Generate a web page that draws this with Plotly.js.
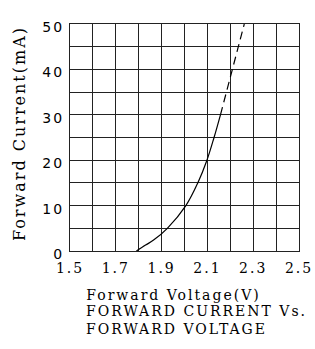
<!DOCTYPE html>
<html><head><meta charset="utf-8">
<script src="https://cdn.plot.ly/plotly-3.0.1.min.js"></script>
<style>
html,body{margin:0;padding:0;background:#fff;}
#chart{width:315px;height:349px;}
#chart .xtick text, #chart .ytick text, #chart .xtitle, #chart .ytitle, #chart .gtitle {letter-spacing:2px;}
#chart .g-xtitle {transform: translate(-11px, 0px);}
#chart .g-ytitle {transform: translate(0px, -4px);}
</style></head><body><div id="chart"></div>
<script>
const voltageSolid = [1.79, 1.83, 1.865, 1.925, 2.006, 2.058, 2.098, 2.129, 2.157];
const currentSolid = [0, 1.3, 2.4, 5, 10, 15, 20, 25, 30];
const voltageDashed = [2.157, 2.184, 2.209, 2.235, 2.261];
const currentDashed = [30, 35, 40, 45, 50];
const xTickVals = [1.5, 1.7, 1.9, 2.1, 2.3, 2.5];
const xTickText = ['1.5', '1.7', '1.9', '2.1', '2.3', '2.5'];
const yTickVals = [0, 10, 20, 30, 40, 50];
const yTickText = ['0', '10', '20', '30', '40', '50'];
const xTitle = 'Forward Voltage(V)';
const yTitle = 'Forward Current(mA)';
const chartTitle = 'FORWARD CURRENT Vs.<br>FORWARD VOLTAGE';

const gridColor = '#222';
const serif = 'DejaVu Serif';

const traces = [
  {x: voltageSolid, y: currentSolid, mode: 'lines', type: 'scatter',
   line: {color: '#000', width: 1.2, shape: 'spline', smoothing: 1}, hoverinfo: 'skip'},
  {x: voltageDashed, y: currentDashed, mode: 'lines', type: 'scatter',
   line: {color: '#000', width: 1.2, dash: '8px,5px'}, hoverinfo: 'skip'}
];

const layout = {
  width: 315, height: 349,
  margin: {l: 70, r: 16, t: 24, b: 98, pad: 0},
  paper_bgcolor: '#fff', plot_bgcolor: '#fff',
  showlegend: false,
  title: {text: chartTitle, font: {family: serif, size: 14, color: '#000'},
          x: 86/315, xanchor: 'left', xref: 'container',
          y: 1 - 316/349, yanchor: 'top', yref: 'container'},
  xaxis: {range: [1.5, 2.5], tickmode: 'array', tickvals: xTickVals, ticktext: xTickText,
          showgrid: true, gridcolor: gridColor, gridwidth: 1, zeroline: false,
          showline: true, mirror: true, linecolor: gridColor, linewidth: 1,
          ticks: '', ticklabelstandoff: 4,
          tickfont: {family: serif, size: 14, color: '#000'},
          minor: {tickmode: 'array', tickvals: [1.6, 1.8, 2.0, 2.2, 2.4], showgrid: true, gridcolor: gridColor, gridwidth: 1},
          title: {text: xTitle, font: {family: serif, size: 14, color: '#000'}, standoff: 15},
          fixedrange: true},
  yaxis: {range: [0, 50], tickmode: 'array', tickvals: yTickVals, ticktext: yTickText,
          showgrid: true, gridcolor: gridColor, gridwidth: 1, zeroline: false,
          showline: true, mirror: true, linecolor: gridColor, linewidth: 1,
          ticks: '', ticklabelstandoff: 2, ticklabelshift: 3,
          tickfont: {family: 'DejaVu Sans', size: 14, color: '#000'},
          minor: {tickmode: 'array', tickvals: [5, 15, 25, 35, 45], showgrid: true, gridcolor: gridColor, gridwidth: 1},
          title: {text: yTitle, font: {family: serif, size: 16, color: '#000'}, standoff: 16},
          fixedrange: true}
};

Plotly.newPlot('chart', traces, layout, {displayModeBar: false, staticPlot: true});
</script></body></html>
